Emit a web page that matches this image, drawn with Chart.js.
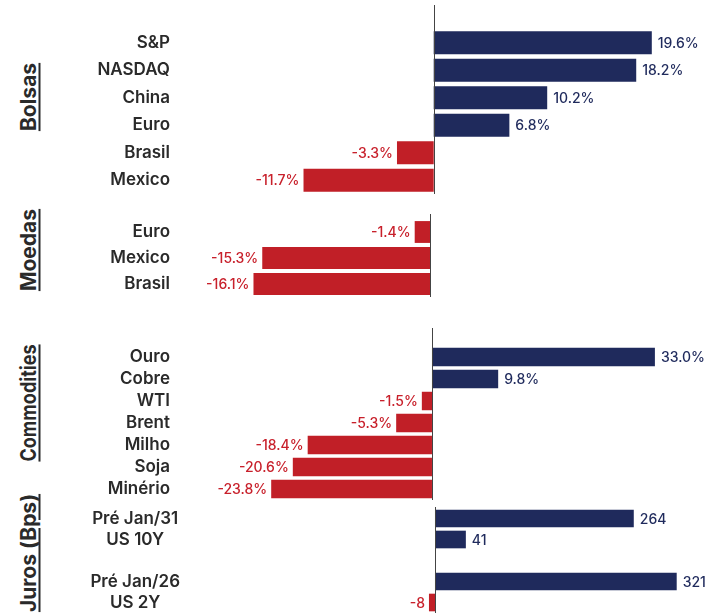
<!DOCTYPE html>
<html>
<head>
<meta charset="utf-8">
<script src="https://cdn.jsdelivr.net/npm/chart.js@4.4.1/dist/chart.umd.min.js"></script>
<style>
body { margin: 0; background: #fff; width: 723px; height: 615px; overflow: hidden; position: relative; font-family: Inter, sans-serif; }
.panel { position: absolute; left: 0; width: 723px; }
.side { position: absolute; font-weight: 700; font-size: 21px; color: #2a2a2a; text-decoration: underline; text-decoration-thickness: 2px; text-underline-offset: 3px; white-space: nowrap; transform: translate(-50%, -50%) rotate(-90deg); }
</style>
</head>
<body>
<div class="side" style="left:28px;top:97px">Bolsas</div>
<div class="side" style="left:28px;top:250px">Moedas</div>
<div class="side" style="left:28px;top:403px;transform:translate(-50%, -50%) rotate(-90deg) scaleX(0.86)">Commodities</div>
<div class="side" style="left:28px;top:553px">Juros (Bps)</div>

<div class="panel" style="top:0;height:200px"><canvas id="bolsas"></canvas></div>
<div class="panel" style="top:205px;height:100px"><canvas id="moedas"></canvas></div>
<div class="panel" style="top:320px;height:185px"><canvas id="commodities"></canvas></div>
<div class="panel" style="top:500px;height:115px"><canvas id="juros"></canvas></div>

<script>
const bolsasLabels = ["S&P", "NASDAQ", "China", "Euro", "Brasil", "Mexico"];
const bolsasValues = [19.6, 18.2, 10.2, 6.8, -3.3, -11.7];

const moedasLabels = ["Euro", "Mexico", "Brasil"];
const moedasValues = [-1.4, -15.3, -16.1];

const commLabels = ["Ouro", "Cobre", "WTI", "Brent", "Milho", "Soja", "Minério"];
const commValues = [33.0, 9.8, -1.5, -5.3, -18.4, -20.6, -23.8];

// empty middle slot keeps the gap between the two pairs
const jurosLabels = ["Pré Jan/31", "US 10Y", "", "Pré Jan/26", "US 2Y"];
const jurosValues = [264, 41, null, 321, -8];

const NAVY = "#1f2a5c";
const RED = "#c11f27";
const RED_TXT = "#c8202b";

const valueLabels = {
    id: 'valueLabels',
    afterDatasetsDraw(chart, args, o) {
        const ctx = chart.ctx;
        const meta = chart.getDatasetMeta(0);
        const vals = chart.data.datasets[0].data;
        ctx.save();
        ctx.font = "500 14px Inter";
        ctx.textBaseline = "middle";
        meta.data.forEach((bar, i) => {
            const v = vals[i];
            if (v === null) return;
            const txt = v.toFixed(o.decimals) + o.suffix;
            if (v >= 0) {
                ctx.fillStyle = NAVY;
                ctx.textAlign = "left";
                ctx.fillText(txt, bar.x + 6, bar.y + 1);
            } else {
                ctx.fillStyle = RED_TXT;
                ctx.textAlign = "right";
                ctx.fillText(txt, bar.x - 4, bar.y + 1);
            }
        });
        // zero line
        const x0 = Math.round(chart.scales.x.getPixelForValue(0)) + 0.5;
        ctx.strokeStyle = "#444";
        ctx.lineWidth = 1;
        ctx.beginPath();
        ctx.moveTo(x0, chart.chartArea.top - o.extra);
        ctx.lineTo(x0, chart.chartArea.bottom);
        ctx.stroke();
        ctx.restore();
    }
};

function makePanel(id, labels, values, opt) {
    new Chart(document.getElementById(id), {
        type: 'bar',
        data: {
            labels: labels,
            datasets: [{
                data: values,
                backgroundColor: values.map(v => v >= 0 ? NAVY : RED),
                borderWidth: 0,
                barPercentage: 0.84,
                categoryPercentage: 1
            }]
        },
        options: {
            indexAxis: 'y',
            responsive: true,
            maintainAspectRatio: false,
            animation: false,
            layout: { padding: { top: opt.padTop, bottom: opt.padBottom, left: 0, right: 10 } },
            plugins: {
                legend: { display: false },
                tooltip: { enabled: false },
                valueLabels: { decimals: opt.decimals, suffix: opt.suffix, extra: opt.extra }
            },
            scales: {
                x: { display: false, min: opt.min, max: opt.max },
                y: {
                    grid: { display: false, drawTicks: false },
                    border: { display: false },
                    afterFit: s => { s.width = 180; s.paddingTop = 0; s.paddingBottom = 0; },
                    ticks: {
                        autoSkip: false,
                        padding: opt.tickPad,
                        crossAlign: opt.crossAlign,
                        color: "#2a2a2a",
                        font: { family: "Inter", size: 17, weight: "600" }
                    }
                }
            }
        },
        plugins: [valueLabels]
    });
}

makePanel("bolsas", bolsasLabels, bolsasValues,
    { min: -22.8, max: 25.1, padTop: 29, padBottom: 6, extra: 24, decimals: 1, suffix: "%", crossAlign: "near", tickPad: 10 });
makePanel("moedas", moedasLabels, moedasValues,
    { min: -22.8, max: 25.8, padTop: 14, padBottom: 8, extra: 5, decimals: 1, suffix: "%", crossAlign: "near", tickPad: 10 });
makePanel("commodities", commLabels, commValues,
    { min: -37.3, max: 41.6, padTop: 26, padBottom: 5, extra: 18, decimals: 1, suffix: "%", crossAlign: "near", tickPad: 10 });
makePanel("juros", jurosLabels, jurosValues,
    { min: -338.6, max: 369.2, padTop: 8, padBottom: 2, extra: 1, decimals: 0, suffix: "", crossAlign: "center", tickPad: 0 });
</script>
</body>
</html>
